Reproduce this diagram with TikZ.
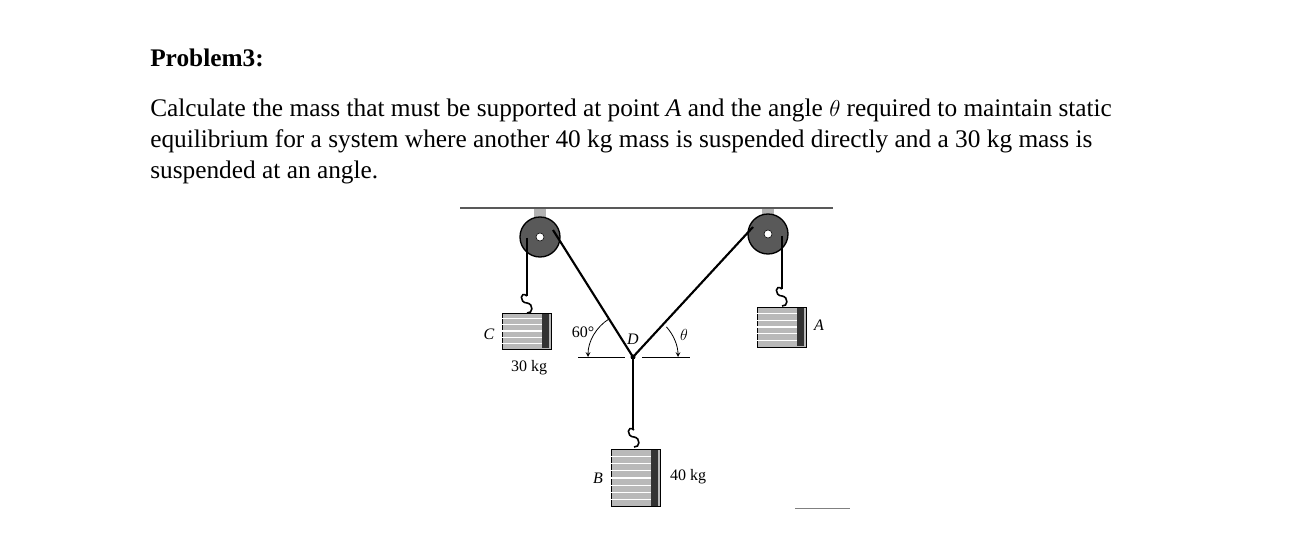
\documentclass[tikz,border=0pt]{standalone}
\usepackage{fontspec}
\setmainfont{Liberation Serif}
\usetikzlibrary{calc}
\begin{document}
\begin{tikzpicture}[x=0.75pt,y=-0.75pt,
  txt/.style={anchor=base west,inner sep=0pt,font=\fontsize{19}{23}\selectfont},
  lbl/.style={inner sep=0pt,font=\fontsize{12}{14}\selectfont},
  rope/.style={line width=1.6pt},
  wt/.style={draw,line width=0.6pt,fill=gray!55,inner sep=0pt}]
\useasboundingbox (0,0) rectangle (1290,549);
\node[txt,font=\bfseries\fontsize{19}{23}\selectfont] (title) at (150,67) {Problem3:};
\node[txt] (l1) at (150,117) {Calculate the mass that must be supported at point \textit{A} and the angle \textit{$\theta$} required to maintain static};
\node[txt] (l2) at (150,148) {equilibrium for a system where another 40 kg mass is suspended directly and a 30 kg mass is};
\node[txt] (l3) at (150,179) {suspended at an angle.};
% ceiling
\draw[line width=1.8pt,gray!70!black] (460,208) -- (833,208);
% pulleys
\foreach \n/\x/\y in {pl/540/237,pr/768/234}{
  \fill[gray!60] (\x-6,209) rectangle (\x+6,\y);
  \node[circle,draw,line width=1pt,fill=gray!70!black,minimum size=30pt,inner sep=0pt] (\n) at (\x,\y) {};
  \node[circle,draw,fill=white,minimum size=6pt,inner sep=0pt] at (\x,\y) {};
}
\coordinate (D) at (633,357);
\coordinate (tl) at (553,230);
\coordinate (tr) at (753,227);
\draw[rope] (tl) -- (D) -- (tr);
\fill (D) circle (2.5);
\draw[rope] (527,238) -- (527,296);
\draw[rope] (782,236) -- (782,289);
\draw[rope] (D) -- (D |- 0,430);
% hooks
\foreach \x/\y in {527/296,782/289,634/430}{
  \draw[line width=1.2pt] (\x,\y) .. controls (\x-7,\y-6) and (\x-8,\y+7) .. (\x,\y+7) .. controls (\x+7,\y+8) and (\x+6,\y+18) .. (\x,\y+17);
}
% weights
\node[wt,minimum width=37pt,minimum height=27pt] (C) at (527,331) {};
\node[wt,minimum width=37pt,minimum height=30pt] (A) at (782,327) {};
\node[wt,minimum width=37pt,minimum height=43pt] (B) at (636,478) {};
\foreach \w/\k in {C/5,A/5,B/7}{
  \foreach \i in {1,...,\k}{
    \draw[white,line width=0.8pt] ($(\w.north west)!{\i/(\k+1)}!(\w.south west)$) -- ($(\w.north east)!{\i/(\k+1)}!(\w.south east)+(-6,0)$);
  }
  \fill[black!80] ($(\w.north east)+(-10,1)$) rectangle ($(\w.south east)+(-3,-1)$);
}
% angle references
\draw[line width=0.6pt] (578,357) -- (625,357);
\draw[line width=0.6pt] (642,357) -- (690,357);
\draw[->,>=stealth,line width=0.6pt] (D) ++(-122:45) arc[start angle=-122,end angle=-180,radius=45];
\draw[->,>=stealth,line width=0.6pt] (D) ++(-42:45) arc[start angle=-42,end angle=0,radius=45];
% labels
\node[lbl,font=\itshape\fontsize{12}{14}\selectfont] (lc) at (489,334) {C};
\node[lbl] (l30) at (529,368) {30 kg};
\node[lbl] (l60) at (583,332) {60°};
\node[lbl,font=\itshape\fontsize{12}{14}\selectfont] (ld) at (633,339) {D};
\node[lbl] (lt) at (684,335) {$\theta$};
\node[lbl,font=\itshape\fontsize{12}{14}\selectfont] (la) at (819,325) {A};
\node[lbl,font=\itshape\fontsize{12}{14}\selectfont] (lb) at (598,478) {B};
\node[lbl] (l40) at (688,477) {40 kg};
\draw[line width=0.5pt,gray] (795,508) -- (850,508);
\end{tikzpicture}
\end{document}
